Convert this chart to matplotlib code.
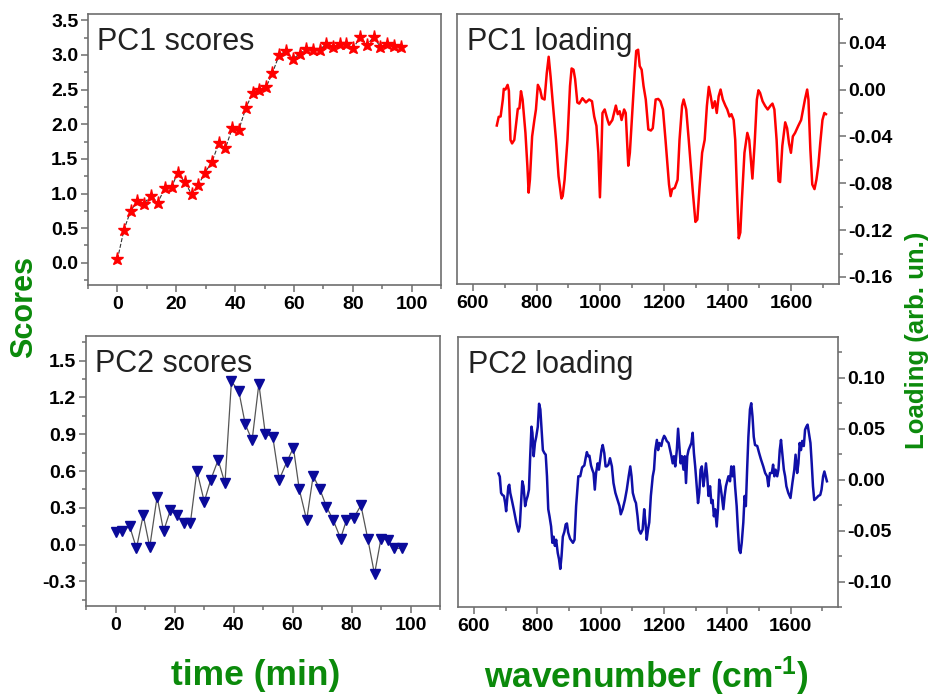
import matplotlib
matplotlib.use("Agg")
import matplotlib.pyplot as plt
from matplotlib.ticker import MultipleLocator, FormatStrFormatter

plt.rcParams['font.family'] = ['Liberation Sans', 'DejaVu Sans']
plt.rcParams['axes.unicode_minus'] = False
plt.rcParams['mathtext.fontset'] = 'custom'
plt.rcParams['mathtext.rm'] = 'Liberation Sans:bold'
plt.rcParams['mathtext.default'] = 'rm'

# ---------------- data ----------------
pc1_time = [0, 2.25, 4.5, 6.8, 9.0, 11.3, 13.7, 16.2, 18.4, 20.5, 23.0, 25.2, 27.5,
            29.7, 32.1, 34.5, 36.7, 39.0, 41.2, 43.7, 46.0, 48.2, 50.5, 52.7, 55.0,
            57.2, 59.7, 62.0, 64.2, 66.5, 68.7, 71.0, 73.2, 75.5, 77.7, 80.2, 82.6,
            84.8, 87.1, 89.3, 91.6, 93.9, 96.3]
pc1_scores = [0.05, 0.48, 0.75, 0.89, 0.85, 0.97, 0.87, 1.08, 1.09, 1.30, 1.16, 0.99,
              1.12, 1.30, 1.45, 1.73, 1.65, 1.94, 1.91, 2.24, 2.45, 2.49, 2.53, 2.74,
              3.00, 3.05, 2.94, 3.02, 3.08, 3.07, 3.07, 3.16, 3.11, 3.16, 3.16, 3.10,
              3.26, 3.14, 3.26, 3.12, 3.15, 3.13, 3.12]

pc2_time = [0, 2.25, 4.8, 7.1, 9.4, 11.6, 14.1, 16.3, 18.6, 20.8, 23.1, 25.4, 27.6,
            30.1, 32.3, 34.8, 37.1, 39.3, 41.8, 44.0, 46.3, 48.6, 50.8, 53.3, 55.5,
            58.0, 60.3, 62.3, 64.8, 67.0, 69.3, 71.5, 73.8, 76.3, 78.3, 80.8, 83.2,
            85.5, 87.8, 90.0, 92.5, 94.5, 97.0]
pc2_scores = [0.10, 0.11, 0.15, -0.03, 0.24, -0.02, 0.39, 0.11, 0.28, 0.24, 0.18, 0.18,
              0.60, 0.35, 0.53, 0.69, 0.50, 1.33, 1.25, 0.98, 0.85, 1.31, 0.90, 0.88,
              0.53, 0.67, 0.79, 0.45, 0.20, 0.56, 0.45, 0.31, 0.20, 0.05, 0.20, 0.22,
              0.32, 0.05, -0.24, 0.05, 0.035, -0.03, -0.03]

pc1_wn = [675, 681, 687, 694, 697, 702, 709, 713, 718, 723, 730, 741, 746, 751, 756,
          765, 771, 775, 779, 786, 793, 798, 804, 811, 817, 825, 832, 838, 844, 850,
          861, 869, 878, 882, 888, 897, 905, 910, 916, 921, 928, 934, 944, 955, 965,
          974, 981, 988, 994, 999, 1003, 1007, 1014, 1023, 1028, 1038, 1049, 1055,
          1061, 1067, 1075, 1080, 1088, 1093, 1101, 1108, 1113, 1119, 1124, 1130,
          1136, 1143, 1151, 1159, 1165, 1174, 1182, 1189, 1197, 1205, 1216, 1221,
          1226, 1234, 1243, 1249, 1257, 1262, 1270, 1278, 1291, 1299, 1305, 1312,
          1320, 1328, 1335, 1341, 1347, 1353, 1360, 1366, 1372, 1378, 1385, 1393,
          1399, 1406, 1412, 1419, 1424, 1429, 1435, 1440, 1445, 1453, 1462, 1468,
          1473, 1478, 1485, 1492, 1497, 1502, 1510, 1518, 1526, 1535, 1541, 1547,
          1554, 1560, 1565, 1572, 1581, 1587, 1593, 1599, 1605, 1612, 1622, 1631,
          1637, 1643, 1650, 1654, 1660, 1666, 1673, 1679, 1685, 1691, 1698, 1704, 1709]
pc1_loading = [-0.0307, -0.0233, -0.023, -0.0085, 0.0006, 0.0, 0.004, -0.001, -0.043,
               -0.046, -0.043, -0.0165, -0.016, -0.0014, -0.0085, -0.037, -0.065,
               -0.088, -0.077, -0.040, -0.026, -0.017, 0.004, 0.0, -0.0074, -0.0085,
               0.014, 0.028, 0.011, -0.0085, -0.043, -0.074, -0.093, -0.091, -0.077,
               -0.043, 0.003, 0.018, 0.017, 0.009, -0.011, -0.012, -0.0074, -0.011,
               -0.0085, -0.010, -0.023, -0.031, -0.054, -0.092, -0.060, -0.020, -0.017,
               -0.026, -0.030, -0.026, -0.0137, -0.021, -0.0185, -0.026, -0.017, -0.020,
               -0.065, -0.054, -0.017, 0.014, 0.033, 0.034, 0.020, 0.017, 0.003, -0.0085,
               -0.034, -0.035, -0.033, -0.0085, -0.008, -0.010, -0.017, -0.043, -0.081,
               -0.091, -0.085, -0.084, -0.077, -0.043, -0.014, -0.0085, -0.017, -0.043,
               -0.088, -0.113, -0.111, -0.083, -0.054, -0.043, -0.014, 0.0023, -0.0057,
               -0.0157, -0.010, -0.020, -0.0057, 0.0, -0.0085, -0.0137, -0.017, -0.023,
               -0.021, -0.026, -0.043, -0.083, -0.127, -0.122, -0.094, -0.054, -0.037,
               -0.043, -0.060, -0.076, -0.046, -0.0085, -0.0006, -0.0028, -0.010,
               -0.014, -0.017, -0.0137, -0.012, -0.017, -0.043, -0.078, -0.079, -0.048,
               -0.028, -0.033, -0.046, -0.054, -0.040, -0.037, -0.031, -0.026, -0.017,
               -0.0085, 0.0, -0.0085, -0.051, -0.081, -0.085, -0.077, -0.065, -0.046,
               -0.026, -0.020, -0.021]

pc2_wn = [678, 682, 686, 690, 695, 699, 702, 705, 709, 712, 715, 720, 726, 734, 741,
          745, 749, 753, 757, 762, 766, 770, 774, 778, 782, 785, 789, 793, 797, 802,
          806, 810, 814, 818, 823, 827, 831, 835, 839, 844, 848, 852, 856, 860, 865,
          869, 873, 877, 881, 886, 890, 894, 898, 904, 913, 918, 923, 930, 936, 942,
          949, 953, 957, 961, 965, 970, 974, 978, 982, 986, 991, 995, 999, 1003, 1007,
          1012, 1016, 1020, 1025, 1030, 1036, 1041, 1047, 1054, 1060, 1064, 1070, 1077,
          1083, 1089, 1094, 1098, 1102, 1108, 1112, 1117, 1121, 1127, 1133, 1138, 1142,
          1146, 1150, 1154, 1159, 1165, 1169, 1173, 1178, 1182, 1186, 1192, 1196, 1201,
          1205, 1209, 1215, 1220, 1224, 1228, 1232, 1236, 1241, 1245, 1249, 1253, 1257,
          1262, 1266, 1270, 1274, 1278, 1283, 1287, 1291, 1295, 1299, 1304, 1308, 1312,
          1316, 1320, 1325, 1329, 1333, 1337, 1341, 1346, 1350, 1354, 1358, 1362, 1367,
          1371, 1375, 1379, 1383, 1388, 1392, 1396, 1400, 1404, 1409, 1413, 1417, 1421,
          1425, 1430, 1434, 1438, 1442, 1446, 1451, 1455, 1459, 1463, 1467, 1472, 1476,
          1480, 1484, 1488, 1495, 1501, 1507, 1514, 1520, 1526, 1530, 1535, 1541, 1545,
          1549, 1553, 1558, 1562, 1566, 1570, 1574, 1579, 1583, 1587, 1593, 1600, 1606,
          1612, 1616, 1621, 1625, 1629, 1633, 1637, 1642, 1646, 1650, 1654, 1658, 1663,
          1667, 1671, 1675, 1682, 1688, 1694, 1698, 1703, 1707, 1711, 1715]
pc2_loading = [0.006, 0.003, -0.013, -0.015, -0.016, -0.023, -0.031, -0.020, -0.0065,
               -0.005, -0.013, -0.020, -0.029, -0.042, -0.051, -0.046, -0.023, -0.0016,
               -0.0065, -0.026, -0.020, -0.016, -0.0098, 0.023, 0.052, 0.046, 0.023,
               0.036, 0.042, 0.052, 0.0745, 0.069, 0.049, 0.029, 0.026, 0.0245, 0.0033,
               -0.029, -0.036, -0.046, -0.062, -0.056, -0.065, -0.059, -0.072, -0.078,
               -0.0876, -0.075, -0.056, -0.051, -0.044, -0.043, -0.052, -0.058, -0.062,
               -0.059, -0.026, 0.0033, 0.0033, 0.012, 0.014, 0.021, 0.027, 0.023, 0.0235,
               0.014, 0.0098, 0.0065, -0.0098, 0.0065, 0.016, 0.0098, 0.0196, 0.029,
               0.034, 0.026, 0.013, 0.013, 0.0147, 0.021, 0.013, -0.0033, -0.013, -0.020,
               -0.026, -0.034, -0.029, -0.020, -0.0098, 0.0033, 0.013, 0.0033, -0.013,
               -0.020, -0.023, -0.036, -0.049, -0.053, -0.049, -0.029, -0.042, -0.059,
               -0.049, -0.042, -0.016, 0.0033, 0.0098, 0.029, 0.039, 0.029, 0.036, 0.033,
               0.039, 0.043, 0.041, 0.038, 0.036, 0.029, 0.023, 0.016, 0.023, 0.013,
               0.029, 0.050, 0.033, 0.016, 0.023, 0.0098, 0.023, -0.0033, 0.023, 0.029,
               0.033, 0.036, 0.046, 0.026, 0.013, -0.0065, -0.023, -0.013, 0.0098, 0.013,
               -0.0065, 0.0033, 0.016, 0.0033, -0.016, -0.0065, -0.023, -0.020, -0.036,
               -0.029, -0.046, -0.029, 0.0, -0.0065, -0.016, -0.029, -0.016, -0.0065,
               -0.0016, 0.0033, -0.0016, 0.013, 0.0033, 0.013, -0.0065, -0.026, -0.049,
               -0.069, -0.072, -0.062, -0.042, -0.016, -0.026, 0.0098, 0.042, 0.069,
               0.075, 0.062, 0.042, 0.034, 0.033, 0.026, 0.0196, 0.013, 0.0065, 0.0033,
               -0.0065, 0.0065, 0.0065, 0.0147, 0.0033, 0.0098, 0.0033, 0.0098, 0.029,
               0.039, 0.026, 0.0098, 0.0033, -0.0065, -0.013, -0.018, -0.0033, 0.0098,
               0.0245, 0.0065, 0.016, 0.036, 0.029, 0.038, 0.033, 0.049, 0.052, 0.054,
               0.046, 0.036, 0.016, -0.0065, -0.020, -0.018, -0.016, -0.015, -0.0098,
               0.0033, 0.008, 0.0033, -0.0016]

panel_titles = ["PC1 scores", "PC1 loading", "PC2 scores", "PC2 loading"]
xlabel_left = "time (min)"
xlabel_right = r"wavenumber (cm$^{\text{-1}}$)"
ylabel_left = "Scores"
ylabel_right = "Loading (arb. un.)"

# ---------------- styling ----------------
GREEN = '#0b8a0b'
FRAME = '#6e6e6e'
W, H = 934, 697
fig = plt.figure(figsize=(W / 100, H / 100), dpi=100)


def pax(x0, y0, x1, y1):
    return fig.add_axes([x0 / W, 1 - y1 / H, (x1 - x0) / W, (y1 - y0) / H])


ax_tl = pax(88, 14, 441, 285)
ax_tr = pax(457, 14, 839, 284)
ax_bl = pax(86, 336, 440, 606)
ax_br = pax(458, 337, 838, 607)


def style(ax, right=False):
    for s in ax.spines.values():
        s.set_color(FRAME)
        s.set_linewidth(1.2)
    ax.tick_params(which='both', direction='out', colors=FRAME, labelcolor='black',
                   labelsize=14, top=False, width=1.1)
    ax.tick_params(which='major', length=5)
    ax.tick_params(which='minor', length=3)
    ax.tick_params(axis='x', pad=3)
    if right:
        ax.yaxis.tick_right()
        ax.tick_params(axis='y', which='both', left=False, right=True, pad=2)
    else:
        ax.tick_params(axis='y', which='both', right=False, pad=2)
    for lbl in ax.get_xticklabels() + ax.get_yticklabels():
        lbl.set_fontweight('bold')


# PC1 scores
ax_tl.plot(pc1_time, pc1_scores, color='#333333', lw=0.8, ls='--', zorder=1)
ax_tl.plot(pc1_time, pc1_scores, ls='none', marker='*', ms=9.5, color='#ff0000',
           mec='#ff0000', zorder=2)
ax_tl.set_xlim(-10, 110)
ax_tl.set_ylim(-0.32, 3.59)
ax_tl.xaxis.set_major_locator(MultipleLocator(20))
ax_tl.xaxis.set_minor_locator(MultipleLocator(10))
ax_tl.yaxis.set_major_locator(MultipleLocator(0.5))
ax_tl.yaxis.set_minor_locator(MultipleLocator(0.25))
ax_tl.yaxis.set_major_formatter(FormatStrFormatter('%.1f'))

# PC1 loading
ax_tr.plot(pc1_wn, pc1_loading, color='#ff0000', lw=1.8)
ax_tr.set_xlim(550, 1750)
ax_tr.set_ylim(-0.166, 0.0645)
ax_tr.xaxis.set_major_locator(MultipleLocator(200))
ax_tr.xaxis.set_minor_locator(MultipleLocator(100))
ax_tr.yaxis.set_major_locator(MultipleLocator(0.04))
ax_tr.yaxis.set_minor_locator(MultipleLocator(0.02))
ax_tr.yaxis.set_major_formatter(FormatStrFormatter('%.2f'))

# PC2 scores
ax_bl.plot(pc2_time, pc2_scores, color='#555555', lw=0.9, zorder=1)
ax_bl.plot(pc2_time, pc2_scores, ls='none', marker='v', ms=7.5, color='#0a0a9a',
           mec='#0a0a9a', zorder=2)
ax_bl.set_xlim(-10, 110)
ax_bl.set_ylim(-0.5, 1.7)
ax_bl.xaxis.set_major_locator(MultipleLocator(20))
ax_bl.xaxis.set_minor_locator(MultipleLocator(10))
ax_bl.yaxis.set_major_locator(MultipleLocator(0.3))
ax_bl.yaxis.set_minor_locator(MultipleLocator(0.15))
ax_bl.yaxis.set_major_formatter(FormatStrFormatter('%.1f'))

# PC2 loading
ax_br.plot(pc2_wn, pc2_loading, color='#1010a8', lw=1.8)
ax_br.set_xlim(550, 1750)
ax_br.set_ylim(-0.125, 0.14)
ax_br.xaxis.set_major_locator(MultipleLocator(200))
ax_br.xaxis.set_minor_locator(MultipleLocator(100))
ax_br.yaxis.set_major_locator(MultipleLocator(0.05))
ax_br.yaxis.set_minor_locator(MultipleLocator(0.025))
ax_br.yaxis.set_major_formatter(FormatStrFormatter('%.2f'))

style(ax_tl)
style(ax_bl)
style(ax_tr, right=True)
style(ax_br, right=True)

for ax, title in zip([ax_tl, ax_tr, ax_bl, ax_br], panel_titles):
    ax.text(0.025, 0.952, title, transform=ax.transAxes, ha='left', va='top',
            fontsize=22, color='#222222')

fig.text(24 / W, 1 - 307 / H, ylabel_left, rotation=90, ha='center', va='center',
         fontsize=22, fontweight='bold', color=GREEN)
fig.text(917 / W, 1 - 340 / H, ylabel_right, rotation=90, ha='center', va='center',
         fontsize=18.5, fontweight='bold', color=GREEN)
fig.text(256 / W, 1 - 676 / H, xlabel_left, ha='center', va='center',
         fontsize=25.5, fontweight='bold', color=GREEN)
fig.text(646 / W, 1 - 676 / H, xlabel_right, ha='center', va='center',
         fontsize=25.5, fontweight='bold', color=GREEN)

fig.savefig('out.png', dpi=100, facecolor='white')
